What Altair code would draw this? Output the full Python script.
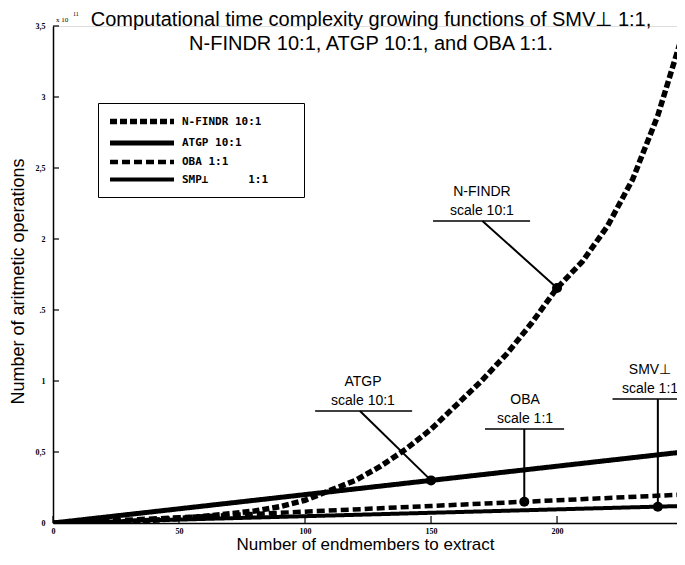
import altair as alt
import pandas as pd

# ---------------- data (values in units of 1e11 operations) ----------------
x_nfindr = [0, 10, 20, 30, 40, 50, 60, 70, 80, 90, 100, 110, 120, 130, 140,
            150, 160, 170, 180, 190, 200, 210, 220, 230, 240, 250]
y_nfindr = [0, 0.0, 0.004, 0.01, 0.02, 0.032, 0.047, 0.065, 0.085, 0.115, 0.16,
            0.23, 0.30, 0.40, 0.52, 0.66, 0.83, 1.00, 1.19, 1.41, 1.655,
            1.84, 2.09, 2.42, 2.87, 3.45]

x_lin = [0, 50, 100, 150, 200, 250]
y_atgp = [0, 0.10, 0.20, 0.30, 0.40, 0.50]
y_oba = [0, 0.04, 0.08, 0.12, 0.16, 0.20]
y_smv = [0, 0.024, 0.048, 0.072, 0.096, 0.12]

series_names = ["N-FINDR", "ATGP", "OBA", "SMV⊥"]
legend_labels = ["N-FINDR 10:1" + "\u00a0" * 5 + "\u200b",
                 "ATGP 10:1",
                 "OBA 1:1",
                 "SMP⊥" + "\u00a0" * 6 + "1:1"]

# highlighted points on each curve
marker_x = [200, 150, 187, 240]
marker_y = [1.655, 0.30, 0.15, 0.115]

# callout annotations
callout_text = ["N-FINDR\nscale 10:1", "ATGP\nscale 10:1", "OBA\nscale 1:1", "SMV⊥\nscale 1:1"]
callout_x = [170.2, 123.0, 187.3, 236.9]
callout_y = [2.127, 0.789, 0.662, 0.873]
underline_x1 = [150.8, 104.0, 171.4, 222.0]
underline_x2 = [189.3, 142.5, 202.8, 250.0]
leader_x1 = [170.4, 121.8, 187.0, 240.0]

x_ticks = [0, 50, 100, 150, 200, 250]
y_ticks = [0, 0.5, 1, 1.5, 2, 2.5, 3, 3.5]
y_tick_labels = ["0", "0,5", "1", ".5", "2", "2,5", "3", "3,5"]

title_lines = ["Computational time complexity growing functions of SMV⊥ 1:1,",
               "N-FINDR 10:1, ATGP 10:1, and OBA 1:1."]

# ---------------- build tables ----------------
rows = []
for xv, yv in zip(x_nfindr, y_nfindr):
    rows.append({"x": xv, "y": yv, "series": "N-FINDR"})
for name, ys in [("ATGP", y_atgp), ("OBA", y_oba), ("SMV⊥", y_smv)]:
    for xv, yv in zip(x_lin, ys):
        rows.append({"x": xv, "y": yv, "series": name})
df_lines = pd.DataFrame(rows)

df_mark = pd.DataFrame({"x": marker_x, "y": marker_y})
df_call = pd.DataFrame({
    "x": callout_x, "y": callout_y, "text": callout_text,
    "ux1": underline_x1, "ux2": underline_x2,
    "lx": leader_x1, "mx": marker_x, "my": marker_y,
})
df_yt = pd.DataFrame({"y": y_ticks})
df_xt = pd.DataFrame({"x": x_ticks[:-1]})

W, H = 624, 497
FONT = "Liberation Sans"
XDOM = [0, 247.6]

label_map = " : ".join(
    f"datum.label == '{s}' ? '{l}'" for s, l in zip(series_names, legend_labels)
) + " : datum.label"
ylab_map = " : ".join(
    f"datum.value == {v} ? '{l}'" for v, l in zip(y_ticks, y_tick_labels)
) + " : ''"

leg = alt.Legend(
    title=None, orient="none", legendX=45, legendY=77,
    strokeColor="black", fillColor="white", padding=9,
    symbolType="M-1,0H8.85", symbolSize=169, symbolStrokeColor="black",
    labelFont="DejaVu Sans Mono", labelFontWeight="bold", labelFontSize=11,
    labelColor="black", labelOffset=56, rowPadding=0, labelExpr=label_map,
    labelLimit=300,
)

xscale = alt.Scale(domain=XDOM, nice=False, zero=False)
yscale = alt.Scale(domain=[0, 3.5], nice=False)

lines = alt.Chart(df_lines).mark_line(clip=True, color="black", strokeCap="butt").encode(
    x=alt.X("x:Q", scale=xscale,
            axis=alt.Axis(values=x_ticks, ticks=False, tickSize=0, grid=False,
                          domainColor="black", domainWidth=1.5,
                          labelFont="Liberation Serif", labelFontSize=8,
                          labelFontWeight="bold", labelColor="black",
                          labelPadding=4, labelFlush=False,
                          title="Number of endmembers to extract",
                          titleFont=FONT, titleFontSize=17, titleFontWeight="normal",
                          titleColor="black", titleY=21, titleBaseline="middle")),
    y=alt.Y("y:Q", scale=yscale,
            axis=alt.Axis(values=y_ticks, ticks=False, tickSize=0, grid=False,
                          domainColor="black", domainWidth=1.5,
                          labelFont="Liberation Serif", labelFontSize=8,
                          labelFontWeight="bold", labelColor="black",
                          labelPadding=8, labelExpr=ylab_map, labelFlush=False,
                          title="Number of aritmetic operations",
                          titleFont=FONT, titleFontSize=18, titleFontWeight="normal",
                          titleColor="black", titleX=-35, titleY=255,
                          titleBaseline="middle")),
    strokeDash=alt.StrokeDash("series:N",
                              scale=alt.Scale(domain=series_names,
                                              range=[[7, 3], [1, 0], [8, 4], [1, 0]]),
                              legend=leg),
    strokeWidth=alt.StrokeWidth("series:N",
                                scale=alt.Scale(domain=series_names,
                                                range=[5.5, 4, 2.5, 1.5]),
                                legend=leg),
)

ytick_layer = alt.Chart(df_yt).mark_rule(color="black", strokeWidth=1.2).encode(
    y=alt.Y("y:Q", scale=yscale), x=alt.value(0), x2=alt.value(6))
xtick_layer = alt.Chart(df_xt).mark_rule(color="black", strokeWidth=1.2).encode(
    x=alt.X("x:Q", scale=xscale), y=alt.value(H), y2=alt.value(H - 7))

underlines = alt.Chart(df_call).mark_rule(color="black", strokeWidth=1.6, clip=True).encode(
    x=alt.X("ux1:Q", scale=xscale), x2="ux2:Q", y=alt.Y("y:Q", scale=yscale))
leaders = alt.Chart(df_call).mark_rule(color="black", strokeWidth=2).encode(
    x=alt.X("lx:Q", scale=xscale), y=alt.Y("y:Q", scale=yscale), x2="mx:Q", y2="my:Q")
markers = alt.Chart(df_mark).mark_circle(color="black", opacity=1, size=100).encode(
    x=alt.X("x:Q", scale=xscale), y=alt.Y("y:Q", scale=yscale))
texts = alt.Chart(df_call).mark_text(
    font=FONT, fontSize=14, color="black", align="center", baseline="bottom",
    lineBreak="\n", lineHeight=19, dy=-22).encode(
    x=alt.X("x:Q", scale=xscale), y=alt.Y("y:Q", scale=yscale), text="text:N")

exp1 = alt.Chart(pd.DataFrame({"t": ["x 10"]})).mark_text(
    font="Liberation Serif", fontSize=7, color="black", align="left").encode(
    x=alt.value(3), y=alt.value(-6), text="t:N")
exp2 = alt.Chart(pd.DataFrame({"t": ["11"]})).mark_text(
    font="Liberation Serif", fontSize=6, color="black", align="left").encode(
    x=alt.value(20), y=alt.value(-12), text="t:N")

chart = alt.layer(
    lines, ytick_layer, xtick_layer, underlines, leaders, markers, texts, exp1, exp2
).properties(
    width=W, height=H,
    title=alt.TitleParams(text=title_lines, font=FONT, fontSize=20, fontWeight="normal",
                          color="black", anchor="middle", lineHeight=24, offset=-43,
                          dx=6),
    autosize=alt.AutoSizeParams(type="none"),
    padding={"left": 45, "top": 18, "right": 0, "bottom": 30},
).configure_view(stroke=None).configure(background="white")

chart.save("out.html", embed_options={"renderer": "svg", "actions": False})
